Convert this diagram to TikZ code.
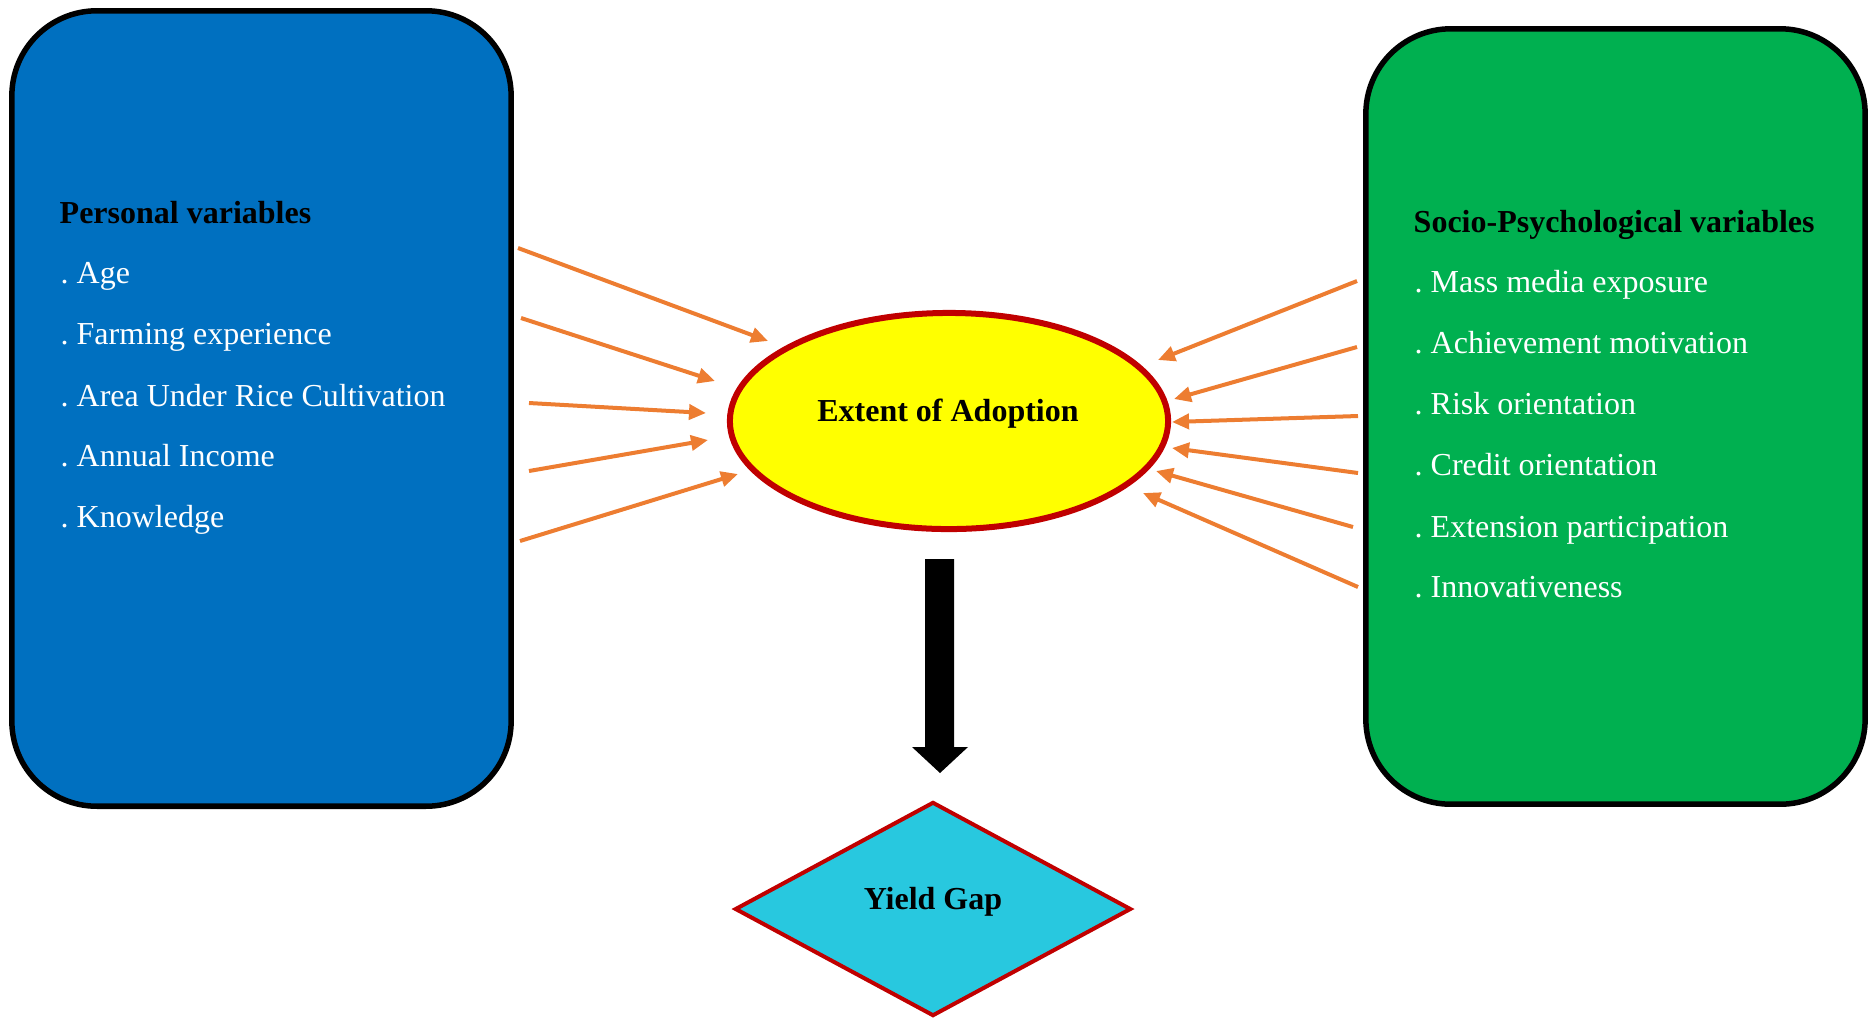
\documentclass[tikz,border=0pt]{standalone}
\usepackage{fontspec}
\setmainfont{Liberation Serif}
\usetikzlibrary{shapes.geometric,arrows.meta}
\definecolor{boxblue}{HTML}{0070C0}
\definecolor{boxgreen}{HTML}{00B050}
\definecolor{ellyellow}{HTML}{FFFF00}
\definecolor{darkred}{HTML}{C00000}
\definecolor{gapcyan}{HTML}{28C8DF}
\definecolor{feedorange}{HTML}{ED7D31}
\frenchspacing
\begin{document}
\begin{tikzpicture}[x=0.01cm,y=-0.01cm,
  font=\fontsize{9.1pt}{11pt}\selectfont,
  varbox/.style={draw=black, line width=0.055cm, rounded corners=0.85cm, minimum width=4.99cm, inner sep=0pt},
  headtxt/.style={anchor=base west, inner sep=0pt, text=black, font=\fontsize{9.1pt}{11pt}\selectfont\bfseries},
  itemtxt/.style={anchor=base west, inner sep=0pt, text=white},
  centertxt/.style={anchor=base, inner sep=0pt, text=black, font=\fontsize{9.1pt}{11pt}\selectfont\bfseries},
  feed/.style={draw=feedorange, line width=0.04cm, -{Triangle[length=0.17cm,width=0.15cm]}}
]
\useasboundingbox (0,0) rectangle (1869,1017);

% boxes
\node[varbox, fill=boxblue, minimum height=7.95cm] (personal) at (261.5,408.5) {};
\node[varbox, fill=boxgreen, minimum height=7.75cm] (socio) at (1615.5,416.5) {};

% left texts
\node[headtxt] (ph) at (59,223) {Personal variables};
\node[itemtxt] (p1) at (60,283) {. Age};
\node[itemtxt] (p2) at (60,344) {. Farming experience};
\node[itemtxt] (p3) at (60,406) {. Area Under Rice Cultivation};
\node[itemtxt] (p4) at (60,466) {. Annual Income};
\node[itemtxt] (p5) at (60,527) {. Knowledge};

% right texts
\node[headtxt] (sh) at (1413,232) {Socio-Psychological variables};
\node[itemtxt] (s1) at (1414,292) {. Mass media exposure};
\node[itemtxt] (s2) at (1414,353) {. Achievement motivation};
\node[itemtxt] (s3) at (1414,414) {. Risk orientation};
\node[itemtxt] (s4) at (1414,475) {. Credit orientation};
\node[itemtxt] (s5) at (1414,537) {. Extension participation};
\node[itemtxt] (s6) at (1414,597) {. Innovativeness};

% ellipse
\node[ellipse, draw=darkred, line width=0.06cm, fill=ellyellow, minimum width=4.38cm, minimum height=2.16cm, inner sep=0pt] (adopt) at (949,421) {};
\node[centertxt] (adopttxt) at (948,421) {Extent of Adoption};

% diamond
\node[diamond, draw=darkred, line width=0.04cm, fill=gapcyan, minimum width=3.96cm, minimum height=2.14cm, inner sep=0pt] (gap) at (933,909) {};
\node[centertxt] (gaptxt) at (933,909) {Yield Gap};

% block arrow
\coordinate (flowtop) at (939.5,559);
\coordinate (flowtip) at (940,773);
\fill[black] (925,559) -- (954,559) -- (954,747) -- (968,747) -- (flowtip) -- (912,747) -- (925,747) -- cycle;

% left feeder arrows
\coordinate (la1) at (518,248); \coordinate (lb1) at (768,341);
\coordinate (la2) at (521,318); \coordinate (lb2) at (715,381);
\coordinate (la3) at (529,403); \coordinate (lb3) at (706,413);
\coordinate (la4) at (529,471); \coordinate (lb4) at (708,440);
\coordinate (la5) at (520,541); \coordinate (lb5) at (738,474);
\foreach \i in {1,...,5} \draw[feed] (la\i) -- (lb\i);

% right feeder arrows
\coordinate (ra1) at (1357,281); \coordinate (rb1) at (1158,360);
\coordinate (ra2) at (1357,347); \coordinate (rb2) at (1174,399);
\coordinate (ra3) at (1358,416); \coordinate (rb3) at (1172,422);
\coordinate (ra4) at (1358,473); \coordinate (rb4) at (1172,448);
\coordinate (ra5) at (1353,527); \coordinate (rb5) at (1156,471);
\coordinate (ra6) at (1358,587); \coordinate (rb6) at (1143,493);
\foreach \i in {1,...,6} \draw[feed] (ra\i) -- (rb\i);
\end{tikzpicture}
\end{document}
